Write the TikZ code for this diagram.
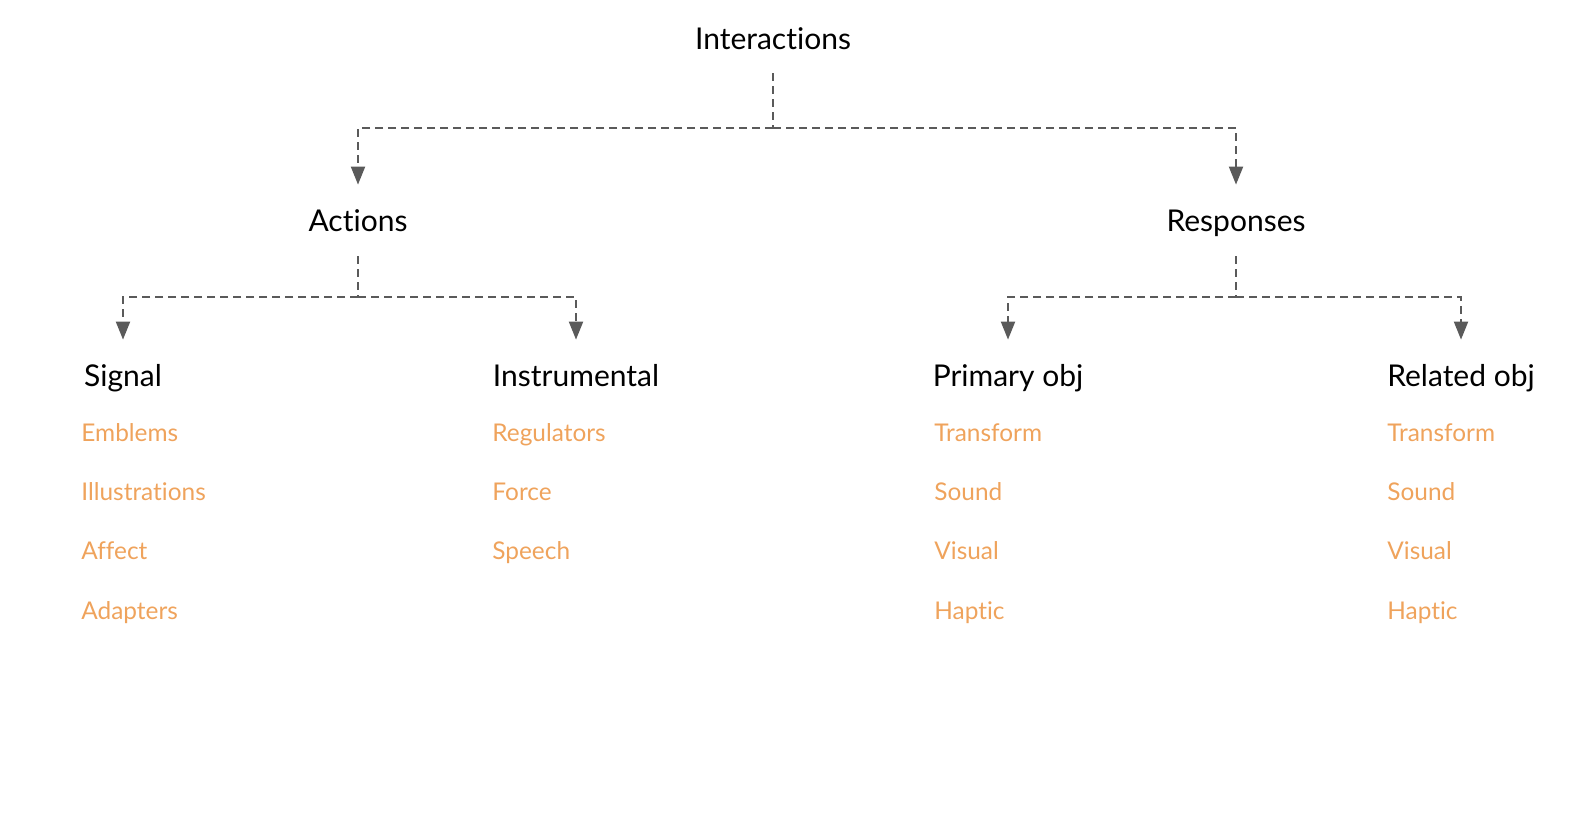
\documentclass[tikz,border=0pt]{standalone}
\usepackage{fontspec}
\setmainfont{Lato}[Ligatures={NoCommon,NoContextual},Contextuals=NoAlternate]
\usetikzlibrary{arrows.meta}
\definecolor{linkgray}{HTML}{5A5A5A}
\definecolor{itemorange}{HTML}{EFA35C}
\begin{document}
\begin{tikzpicture}[x=0.5pt,y=-0.5pt,
  head/.style={font=\fontsize{15}{18}\selectfont, inner sep=0pt, text height=10.5pt, text depth=0pt, anchor=base},
  item/.style={font=\fontsize{12.2}{15}\selectfont, text=itemorange, inner sep=0pt, anchor=base west},
  link/.style={draw=linkgray, line width=1pt, dash pattern=on 4pt off 2.5pt},
  tip/.style={-{Triangle[width=7pt,length=9pt]}, linkgray}]
\useasboundingbox (0,0) rectangle (1572,820);
\node[head] (inter) at (773,49) {Interactions};
\node[head] (act) at (358,231) {Actions};
\node[head] (resp) at (1236,231) {Responses};
\node[head] (sig) at (123,386) {Signal};
\node[head] (ins) at (576,386) {Instrumental};
\node[head] (prim) at (1008,386) {Primary obj};
\node[head] (rel) at (1461,386) {Related obj};
\coordinate (j0) at (773,128);
\coordinate (j1) at (358,297);
\coordinate (j2) at (1236,297);
\draw[link, shorten <=12pt] (inter.south) -- (j0);
\draw[link, tip, shorten >=12.5pt] (j0) -| (act.north);
\draw[link, tip, shorten >=12.5pt] (j0) -| (resp.north);
\draw[link, shorten <=12.5pt] (act.south) -- (j1);
\draw[link, tip, shorten >=12.5pt] (j1) -| (sig.north);
\draw[link, tip, shorten >=12.5pt] (j1) -| (ins.north);
\draw[link, shorten <=12.5pt] (resp.south) -- (j2);
\draw[link, tip, shorten >=12.5pt] (j2) -| (prim.north);
\draw[link, tip, shorten >=12.5pt] (j2) -| (rel.north);
% signal
\node[item] (emb) at (81,441) {Emblems};
\node[item] (ill) at (81,500) {Illustrations};
\node[item] (aff) at (81,559) {Affect};
\node[item] (adp) at (81,619) {Adapters};
% instrumental
\node[item] (reg) at (492,441) {Regulators};
\node[item] (frc) at (492,500) {Force};
\node[item] (spc) at (492,559) {Speech};
% primary obj
\node[item] (ptr) at (934,441) {Transform};
\node[item] (psn) at (934,500) {Sound};
\node[item] (pvs) at (934,559) {Visual};
\node[item] (phy) at (934,619) {Haptic};
% related obj
\node[item] (rtr) at (1387,441) {Transform};
\node[item] (rsn) at (1387,500) {Sound};
\node[item] (rvs) at (1387,559) {Visual};
\node[item] (rhy) at (1387,619) {Haptic};
\end{tikzpicture}
\end{document}
